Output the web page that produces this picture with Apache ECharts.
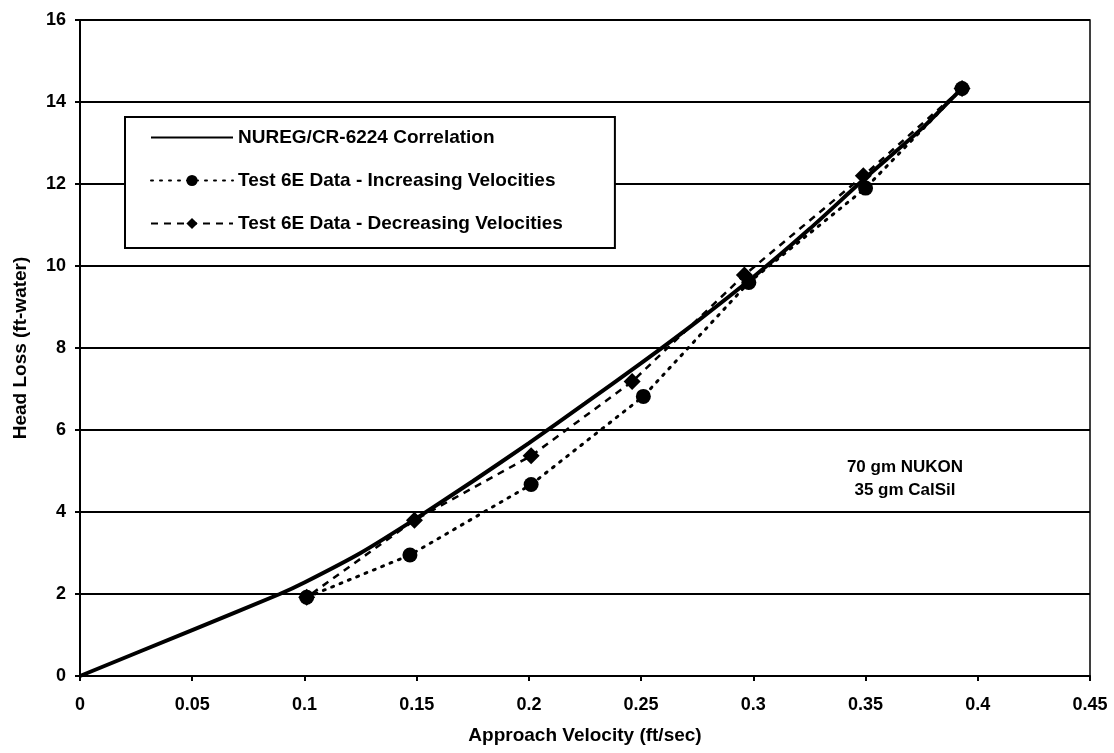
<!DOCTYPE html>
<html lang="en">
<head>
    <meta charset="UTF-8">
    <title>Head Loss vs Approach Velocity</title>
    <script type="text/javascript" src="https://cdn.jsdelivr.net/npm/echarts@6/dist/echarts.min.js"></script>
    <style>
        html, body { margin: 0; padding: 0; background: #fff; }
    </style>
</head>
<body>
<div id="chart" style="width: 1114px;height:753px;"></div>
<script>
    // NUREG/CR-6224 correlation curve
    var corrX = [0, 0.05, 0.089, 0.1, 0.125, 0.15, 0.175, 0.2, 0.225, 0.25, 0.275, 0.3, 0.325, 0.35, 0.375, 0.393];
    var corrY = [0, 1.12, 2.0, 2.28, 3.0, 3.85, 4.75, 5.68, 6.65, 7.63, 8.65, 9.73, 10.9, 12.15, 13.35, 14.34];

    // test 6E data, increasing velocities
    var incX = [0.101, 0.147, 0.201, 0.251, 0.298, 0.350, 0.393];
    var incY = [1.92, 2.95, 4.67, 6.82, 9.6, 11.9, 14.33];

    // test 6E data, decreasing velocities
    var decX = [0.393, 0.349, 0.296, 0.246, 0.201, 0.149, 0.101];
    var decY = [14.33, 12.2, 9.78, 7.18, 5.37, 3.8, 1.92];

    var xTicks = [0, 0.05, 0.1, 0.15, 0.2, 0.25, 0.3, 0.35, 0.4, 0.45];

    function pairs(xs, ys) {
        var out = [];
        for (var i = 0; i < xs.length; i++) {
            out.push([xs[i], ys[i]]);
        }
        return out;
    }

    var font = 'Arial, "Liberation Sans", sans-serif';

    var option = {
        animation: false,
        backgroundColor: '#fff',
        textStyle: { fontFamily: font },
        grid: {
            left: 80,
            right: 24,
            top: 20,
            bottom: 77,
            show: true,
            borderColor: '#000',
            borderWidth: 1.5
        },
        legend: {
            orient: 'vertical',
            left: 125,
            top: 117,
            padding: [11, 52, 15, 25],
            itemGap: 24,
            itemWidth: 82,
            itemHeight: 14,
            backgroundColor: '#fff',
            borderColor: '#000',
            borderWidth: 2,
            textStyle: {
                fontFamily: font,
                fontWeight: 'bold',
                fontSize: 19,
                color: '#000'
            },
            data: [
                { name: 'NUREG/CR-6224 Correlation', itemStyle: { color: 'rgba(0,0,0,0)', borderWidth: 0 } },
                'Test 6E Data - Increasing Velocities',
                'Test 6E Data - Decreasing Velocities'
            ]
        },
        xAxis: {
            type: 'value',
            min: 0,
            max: 0.45,
            interval: 0.05,
            name: 'Approach Velocity (ft/sec)',
            nameLocation: 'middle',
            nameGap: 50,
            nameTextStyle: { fontFamily: font, fontWeight: 'bold', fontSize: 19, color: '#000' },
            axisLine: { lineStyle: { color: '#000', width: 2 } },
            axisTick: { show: true, length: 5, inside: false, lineStyle: { color: '#000', width: 2 } },
            splitLine: { show: false },
            axisLabel: {
                color: '#000',
                fontWeight: 'bold',
                fontSize: 18,
                margin: 20,
                formatter: function (v) {
                    for (var i = 0; i < xTicks.length; i++) {
                        if (Math.abs(xTicks[i] - v) < 1e-9) return String(xTicks[i]);
                    }
                    return '';
                }
            }
        },
        yAxis: {
            type: 'value',
            min: 0,
            max: 16,
            interval: 2,
            name: 'Head Loss (ft-water)',
            nameLocation: 'middle',
            nameGap: 50,
            nameTextStyle: { fontFamily: font, fontWeight: 'bold', fontSize: 19, color: '#000' },
            axisLine: { show: true, lineStyle: { color: '#000', width: 2 } },
            axisTick: { show: true, length: 5, lineStyle: { color: '#000', width: 2 } },
            splitLine: { show: true, lineStyle: { color: '#000', width: 1.8 } },
            axisLabel: { color: '#000', fontWeight: 'bold', fontSize: 18, margin: 14 }
        },
        graphic: [{
            type: 'text',
            x: 905,
            y: 456,
            style: {
                text: '70 gm NUKON\n35 gm CalSil',
                align: 'center',
                verticalAlign: 'top',
                fill: '#000',
                font: 'bold 17px Arial, "Liberation Sans", sans-serif',
                lineHeight: 23
            }
        }],
        series: [
            {
                name: 'NUREG/CR-6224 Correlation',
                type: 'line',
                data: pairs(corrX, corrY),
                showSymbol: false,
                symbol: 'none',
                smooth: 0.2,
                lineStyle: { color: '#000', width: 4 },
                itemStyle: { color: '#000' },
                z: 3
            },
            {
                name: 'Test 6E Data - Increasing Velocities',
                type: 'line',
                data: pairs(incX, incY),
                symbol: 'circle',
                symbolSize: 15,
                lineStyle: { color: '#000', width: 3, type: [2, 7], cap: 'round' },
                itemStyle: { color: '#000' },
                z: 4
            },
            {
                name: 'Test 6E Data - Decreasing Velocities',
                type: 'line',
                data: pairs(decX, decY),
                symbol: 'diamond',
                symbolSize: 17,
                lineStyle: { color: '#000', width: 2.5, type: [7, 6] },
                itemStyle: { color: '#000' },
                z: 5
            }
        ]
    };

    var myChart = echarts.init(document.getElementById('chart'));
    myChart.setOption(option);
</script>
</body>
</html>
